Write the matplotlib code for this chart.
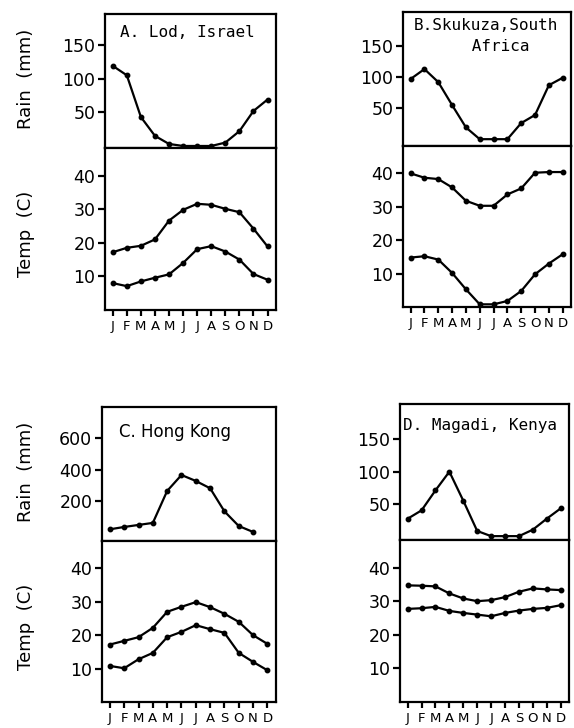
import matplotlib
matplotlib.use("Agg")
import matplotlib.pyplot as plt

# === Données ===
months = ["J", "F", "M", "A", "M", "J", "J", "A", "S", "O", "N", "D"]
month_idx = list(range(1, 13))

lod_rain = [119, 105, 43, 15, 3, 0, 0, 0, 5, 22, 52, 69]
lod_tmax = [17.2, 18.5, 19.1, 21.0, 26.6, 29.8, 31.6, 31.3, 30.1, 29.1, 24.2, 18.9]
lod_tmin = [8.0, 7.1, 8.5, 9.6, 10.6, 14.0, 18.1, 19.0, 17.4, 15.0, 10.7, 9.0]

skukuza_rain = [97, 113, 92, 55, 19, 0, 0, 0, 26, 39, 87, 99]
skukuza_tmax = [40.0, 38.7, 38.3, 35.8, 31.8, 30.3, 30.3, 33.7, 35.5, 40.2, 40.4, 40.4]
skukuza_tmin = [14.8, 15.2, 14.2, 10.2, 5.3, 0.8, 0.8, 1.8, 4.8, 9.8, 13.0, 15.8]

# Hong Kong : seulement 11 points de pluie sur la figure d'origine
hk_rain = [17, 32, 45, 58, 263, 365, 327, 280, 132, 38, 0]
hk_tmax = [17.2, 18.3, 19.4, 22.2, 27.0, 28.5, 29.9, 28.4, 26.4, 24.0, 20.0, 17.4]
hk_tmin = [10.8, 10.1, 12.8, 14.7, 19.4, 21.0, 23.0, 21.8, 20.7, 14.7, 12.0, 9.5]

magadi_rain = [27, 40, 71, 100, 55, 8, 0, 0, 0, 10, 27, 43]
magadi_tmax = [34.7, 34.6, 34.4, 32.3, 30.8, 30.0, 30.3, 31.2, 32.8, 33.8, 33.5, 33.3]
magadi_tmin = [27.7, 27.9, 28.3, 27.1, 26.5, 26.0, 25.5, 26.5, 27.2, 27.7, 28.0, 28.8]

FIG_W, FIG_H = 574, 728
NUM_FONT = "DejaVu Sans"
MONO = "DejaVu Sans Mono"


def px_axes(fig, left, top, right, bottom):
    """Crée un axe à partir de coordonnées en pixels (origine en haut à gauche)."""
    return fig.add_axes([left / FIG_W, 1 - bottom / FIG_H,
                         (right - left) / FIG_W, (bottom - top) / FIG_H])


def style_axis(ax, yticks, ylim, show_months):
    ax.set_xlim(0.45, 12.6)
    ax.set_ylim(*ylim)
    ax.set_yticks(yticks)
    ax.set_yticklabels([str(t) for t in yticks], fontsize=12.5, family=NUM_FONT)
    ax.tick_params(axis="y", direction="out", length=5, width=1.6, pad=2)
    for sp in ax.spines.values():
        sp.set_linewidth(1.6)
    if show_months:
        ax.set_xticks(month_idx)
        ax.set_xticklabels(months, fontsize=9.5, family=NUM_FONT)
        ax.tick_params(axis="x", direction="out", length=4, width=1.6, pad=3)
    else:
        ax.set_xticks([])


def draw_panel(fig, box, rain, tmax, tmin, rain_ticks, rain_lim, title,
               title_pos, title_kw, ylabels=False):
    left, top, mid, right, bottom = box
    ax_r = px_axes(fig, left, top, right, mid)
    ax_t = px_axes(fig, left, mid, right, bottom)

    style = dict(color="black", linewidth=1.6, marker="o", markersize=3.2)
    ax_r.plot(month_idx[:len(rain)], rain, **style)
    ax_t.plot(month_idx, tmax, **style)
    ax_t.plot(month_idx, tmin, **style)

    style_axis(ax_r, rain_ticks, rain_lim, False)
    style_axis(ax_t, [10, 20, 30, 40], (0, 48.2), True)

    ax_r.text(title_pos[0], title_pos[1], title, transform=ax_r.transAxes,
              ha="left", va="center", **title_kw)

    if ylabels:
        fig.text(26 / FIG_W, 1 - ((top + mid) / 2 - 2) / FIG_H, "Rain  (mm)",
                 rotation=90, ha="center", va="center", fontsize=13, family=NUM_FONT)
        fig.text(26 / FIG_W, 1 - ((mid + bottom) / 2 + 5) / FIG_H, "Temp  (C)",
                 rotation=90, ha="center", va="center", fontsize=13, family=NUM_FONT)


fig = plt.figure(figsize=(FIG_W / 100, FIG_H / 100), dpi=100)

mono_kw = dict(fontsize=11.5, family=MONO)

draw_panel(fig, (105, 14, 148, 276, 310), lod_rain, lod_tmax, lod_tmin,
           [50, 100, 150], (-3, 196), "A. Lod, Israel", (0.09, 0.86), mono_kw,
           ylabels=True)
draw_panel(fig, (403, 12, 146, 571, 307), skukuza_rain, skukuza_tmax, skukuza_tmin,
           [50, 100, 150], (-11, 205), "B.Skukuza,South\n      Africa", (0.065, 0.82),
           dict(linespacing=1.45, **mono_kw))
draw_panel(fig, (102, 407, 541, 276, 702), hk_rain, hk_tmax, hk_tmin,
           [200, 400, 600], (-58, 801), "C. Hong Kong", (0.1, 0.815),
           dict(fontsize=12, family=NUM_FONT), ylabels=True)
draw_panel(fig, (400, 404, 540, 569, 702), magadi_rain, magadi_tmax, magadi_tmin,
           [50, 100, 150], (-6, 205), "D. Magadi, Kenya", (0.02, 0.84), mono_kw)

fig.savefig("out.png", dpi=100)
